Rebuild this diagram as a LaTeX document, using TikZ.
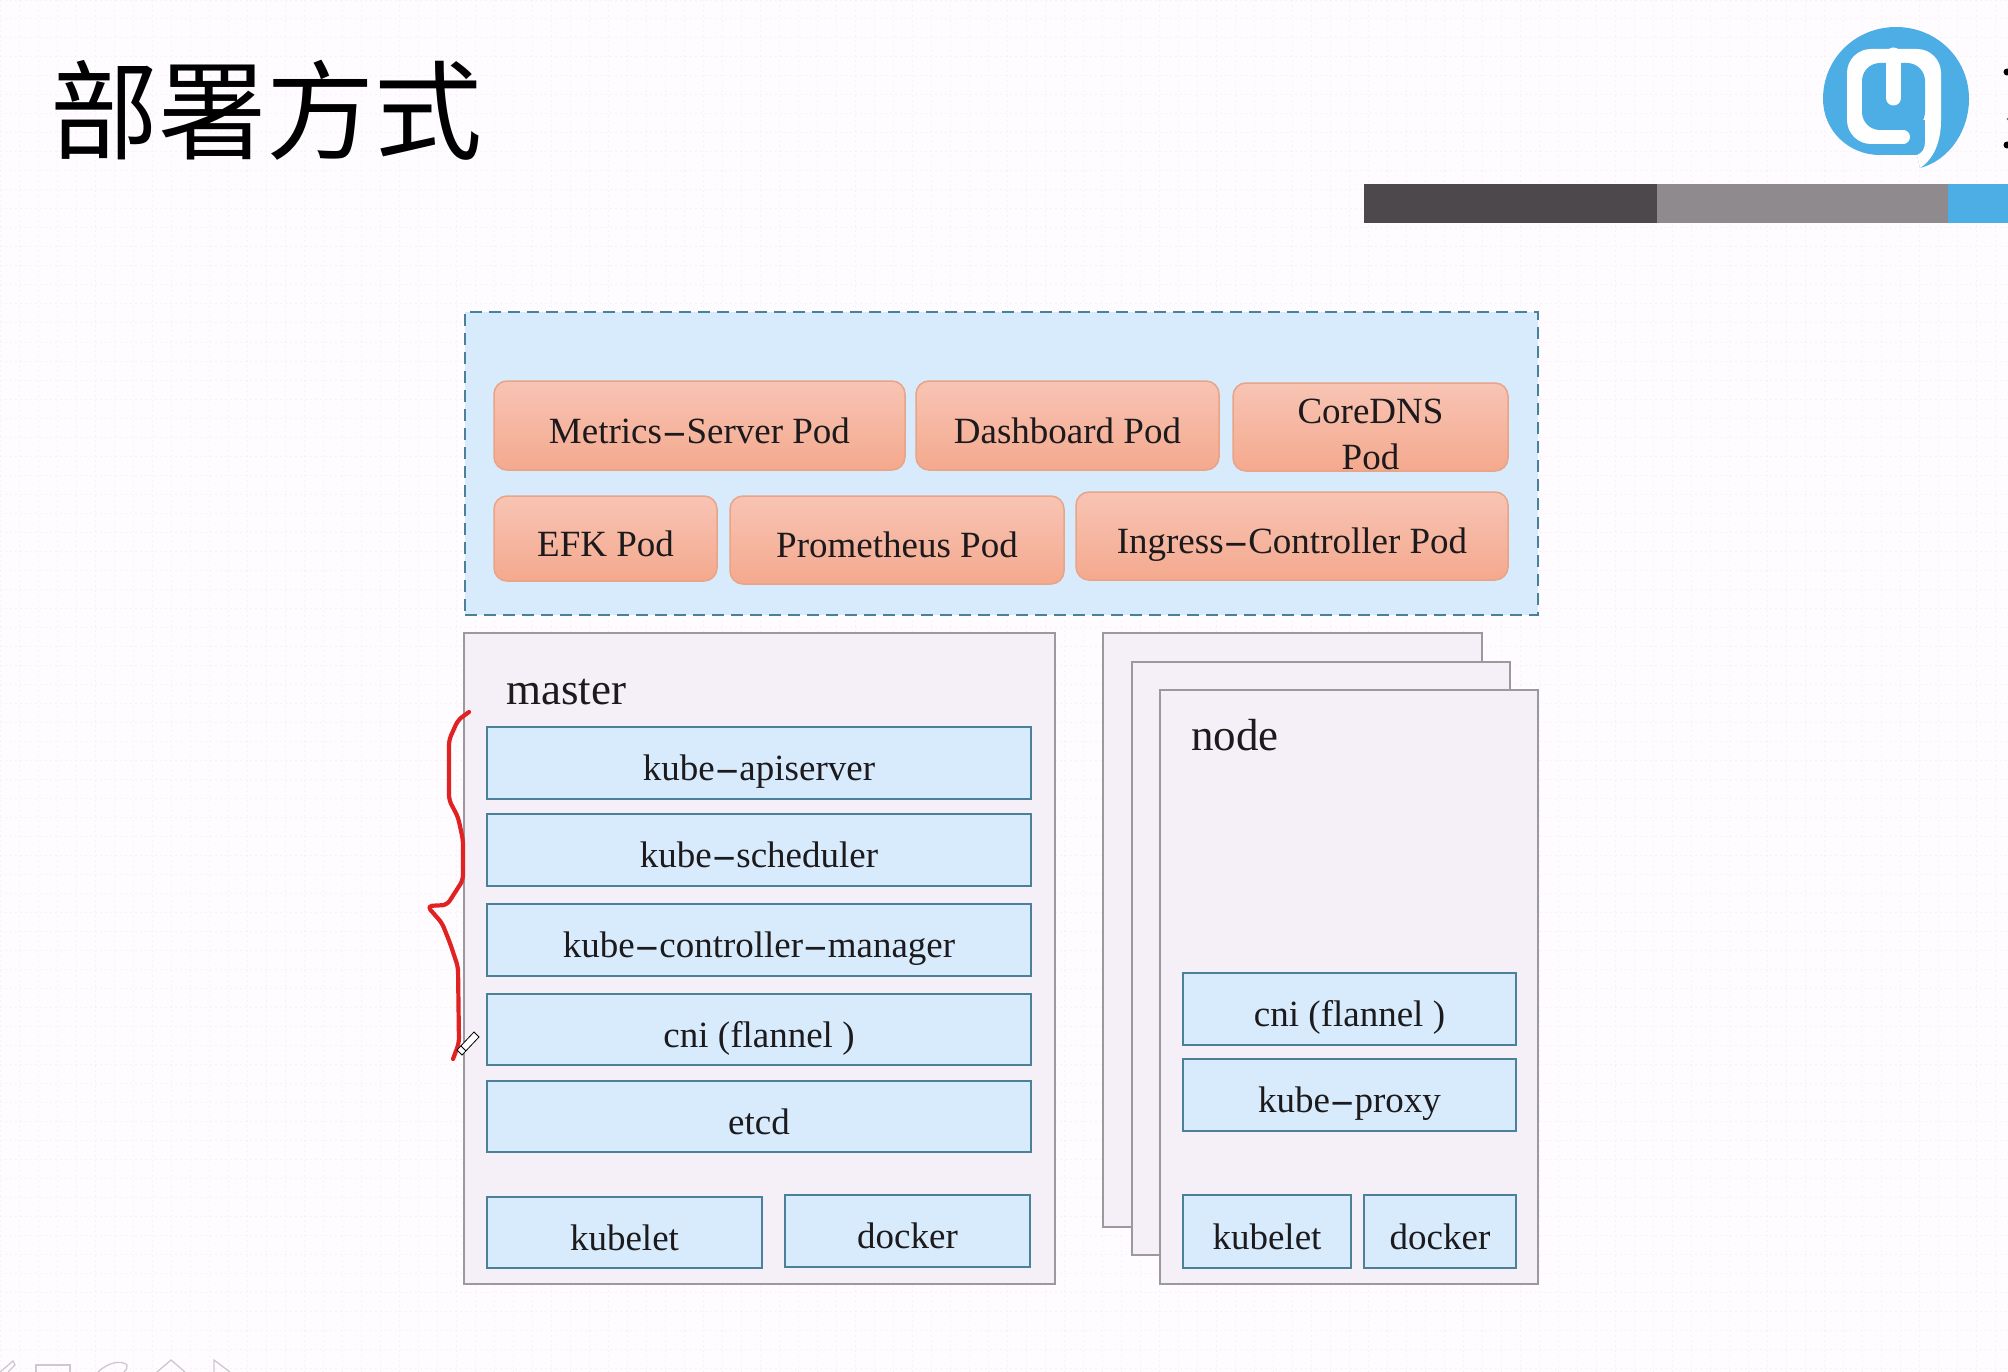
\documentclass[tikz,border=0pt]{standalone}
\usepackage{fontspec}
\usepackage{graphicx}
\setmainfont{Liberation Serif}
\newfontfamily\cjkfont{Noto Sans CJK SC}
\usetikzlibrary{shapes.geometric}
\definecolor{pagebg}{HTML}{FEFCFF}
\definecolor{gridc}{HTML}{F8F1FA}
\definecolor{skyfill}{HTML}{D8EBFC}
\definecolor{tealline}{HTML}{4A8098}
\definecolor{hostfill}{HTML}{F5F0F7}
\definecolor{hostline}{HTML}{9D98A0}
\definecolor{podtop}{HTML}{F8C4B4}
\definecolor{podbot}{HTML}{F4A98E}
\definecolor{podline}{HTML}{E8A487}
\definecolor{inkc}{HTML}{1C1A1C}
\definecolor{logoblue}{HTML}{4CAEE4}
\definecolor{bardark}{HTML}{4D484C}
\definecolor{bargray}{HTML}{8E8A8E}
\definecolor{penred}{HTML}{E02222}
\definecolor{toolc}{HTML}{CFC6D2}
\newcommand\dsh{\scalebox{2}[1]{-}}
\newcommand\placebox[7][]{%
  \pgfmathsetmacro\cxv{(#4+#6)/2}%
  \pgfmathsetmacro\cyv{(#5+#7)/2}%
  \node[#2,minimum width={#6-#4},minimum height={#7-#5},#1] (#3) at (\cxv,\cyv) {\labeltext};}
\tikzset{
  lbl/.style={inner sep=0pt,text=inkc,font=\fontsize{37}{46}\selectfont,text height=35pt,text depth=0pt,align=center},
  bluebox/.style={lbl,rectangle,draw=tealline,fill=skyfill,line width=1.5pt},
  podbox/.style={lbl,rectangle,rounded corners=13pt,draw=podline,line width=1.5pt,top color=podtop,bottom color=podbot},
  hostbox/.style={rectangle,draw=hostline,fill=hostfill,line width=1.3pt,inner sep=0pt},
  zonebox/.style={rectangle,draw=tealline,fill=skyfill,line width=1.6pt,dash pattern=on 12pt off 7pt,inner sep=0pt},
  hostlbl/.style={inner sep=0pt,text=inkc,font=\fontsize{45}{50}\selectfont,anchor=base west},
  brace/.style={draw=penred,line width=4.2pt,line join=round,line cap=round,rounded corners=5pt},
  toolmark/.style={draw=toolc,line width=1.3pt}
}
\begin{document}
\begin{tikzpicture}[x=1pt,y=-1pt]
\useasboundingbox (0,0) rectangle (2008,1372);
\fill[pagebg] (0,0) rectangle (2008,1372);
\draw[gridc,line width=1pt,dash pattern=on 2pt off 3pt,xstep=19pt,ystep=19pt] (0,0) grid (2008,1372);
% title
\node[inner sep=0pt,anchor=base west,font=\cjkfont\fontsize{108}{110}\selectfont,text=black] (title) at (50,152) {部署方式};
% bar
\fill[bardark] (1364,184) rectangle (1657,223);
\fill[bargray] (1657,184) rectangle (1948,223);
\fill[logoblue] (1948,184) rectangle (2008,223);
% logo
\fill[logoblue] (1920,168) .. controls (1950,160) and (1969,130) .. (1969,99)
  .. controls (1969,58) and (1936,27) .. (1896,27)
  .. controls (1856,27) and (1823,58) .. (1823,99)
  .. controls (1823,130) and (1848,155) .. (1880,155) -- (1917,155) -- cycle;
\fill[white,rounded corners=24pt] (1847,49) rectangle (1941,144);
\fill[logoblue,rounded corners=18pt] (1862,63) rectangle (1925,130);
\fill[logoblue] (1905,120) rectangle (1925,148);
\fill[logoblue] (1880,144) rectangle (1917,155);
\fill[logoblue] (1905,144) -- (1925,144) -- (1925,148) .. controls (1925,151) and (1921,155) .. (1917,155) -- (1905,155) -- cycle;
\fill[white] (1925,120) -- (1941,120) .. controls (1941,140) and (1935,158) .. (1920,168) -- (1917,155) .. controls (1922,153) and (1925,149) .. (1925,142) -- cycle;
\draw[white,line width=15pt,line cap=round] (1893.5,55) -- (1893.5,98);
\draw[white,line width=14pt,line cap=round] (1875,137) -- (1903,137);
\fill[black] (2007,72) circle[radius=3.5pt];
\fill[black!60] (2008,119) circle[radius=1.5pt];
\fill[black] (2007,145) circle[radius=3.5pt];
% zone
\def\labeltext{}
\placebox{zonebox}{zone}{465}{312}{1538}{615}
\def\labeltext{Metrics\dsh Server Pod}
\placebox{podbox}{metrics}{494}{381}{905}{470}
\def\labeltext{Dashboard Pod}
\placebox{podbox}{dashboard}{916}{381}{1219}{470}
\def\labeltext{CoreDNS\\Pod}
\placebox[text height=84pt]{podbox}{coredns}{1233}{383}{1508}{471}
\def\labeltext{EFK Pod}
\placebox{podbox}{efk}{494}{496}{717}{581}
\def\labeltext{Prometheus Pod}
\placebox{podbox}{prometheus}{730}{496}{1064}{584}
\def\labeltext{Ingress\dsh Controller Pod}
\placebox{podbox}{ingress}{1076}{492}{1508}{580}
% master
\def\labeltext{}
\placebox{hostbox}{master}{464}{633}{1055}{1284}
\node[hostlbl] (masterlabel) at (506,704) {master};
\def\labeltext{kube\dsh apiserver}
\placebox{bluebox}{apiserver}{487}{727}{1031}{799}
\def\labeltext{kube\dsh scheduler}
\placebox{bluebox}{scheduler}{487}{814}{1031}{886}
\def\labeltext{kube\dsh controller\dsh manager}
\placebox{bluebox}{controller}{487}{904}{1031}{976}
\def\labeltext{cni (flannel )}
\placebox{bluebox}{mcni}{487}{994}{1031}{1065}
\def\labeltext{etcd}
\placebox{bluebox}{etcd}{487}{1081}{1031}{1152}
\def\labeltext{kubelet}
\placebox{bluebox}{mkubelet}{487}{1197}{762}{1268}
\def\labeltext{docker}
\placebox{bluebox}{mdocker}{785}{1195}{1030}{1267}
% nodes
\def\labeltext{}
\placebox{hostbox}{nodeback}{1103}{633}{1482}{1227}
\placebox{hostbox}{nodemid}{1132}{662}{1510}{1255}
\placebox{hostbox}{nodefront}{1160}{690}{1538}{1284}
\node[hostlbl] (nodelabel) at (1191,750) {node};
\def\labeltext{cni (flannel )}
\placebox{bluebox}{ncni}{1183}{973}{1516}{1045}
\def\labeltext{kube\dsh proxy}
\placebox{bluebox}{proxy}{1183}{1059}{1516}{1131}
\def\labeltext{kubelet}
\placebox{bluebox}{nkubelet}{1183}{1195}{1351}{1268}
\def\labeltext{docker}
\placebox{bluebox}{ndocker}{1364}{1195}{1516}{1268}
% red brace
\draw[brace] (469,712) -- (458,720) -- (449,740) -- (449,800) -- (458,817) -- (463,840) -- (463,880) -- (447,905) -- (427,906) -- (442,923) -- (450,943) -- (458,967) -- (459,1043) -- (453,1059);
% pen cursor
\draw[black,fill=white,line width=.8pt] (457,1050) -- (474,1032) -- (479,1037) -- (462,1055) -- cycle;
\draw[black,line width=.8pt] (461,1046) -- (466,1051);
% toolbar remnants
\draw[toolmark] (0,1372) -- (13,1361) -- (15,1365) -- (8,1372);
\draw[toolmark] (36,1372) -- (36,1365) -- (70,1365) -- (70,1372);
\draw[toolmark] (98,1372) .. controls (108,1362) and (122,1360) .. (127,1365) .. controls (128,1368) and (126,1370) .. (124,1372);
\draw[toolmark] (157,1372) -- (171,1360) -- (185,1372);
\draw[toolmark] (214,1372) -- (214,1360) -- (230,1372);
\end{tikzpicture}
\end{document}
